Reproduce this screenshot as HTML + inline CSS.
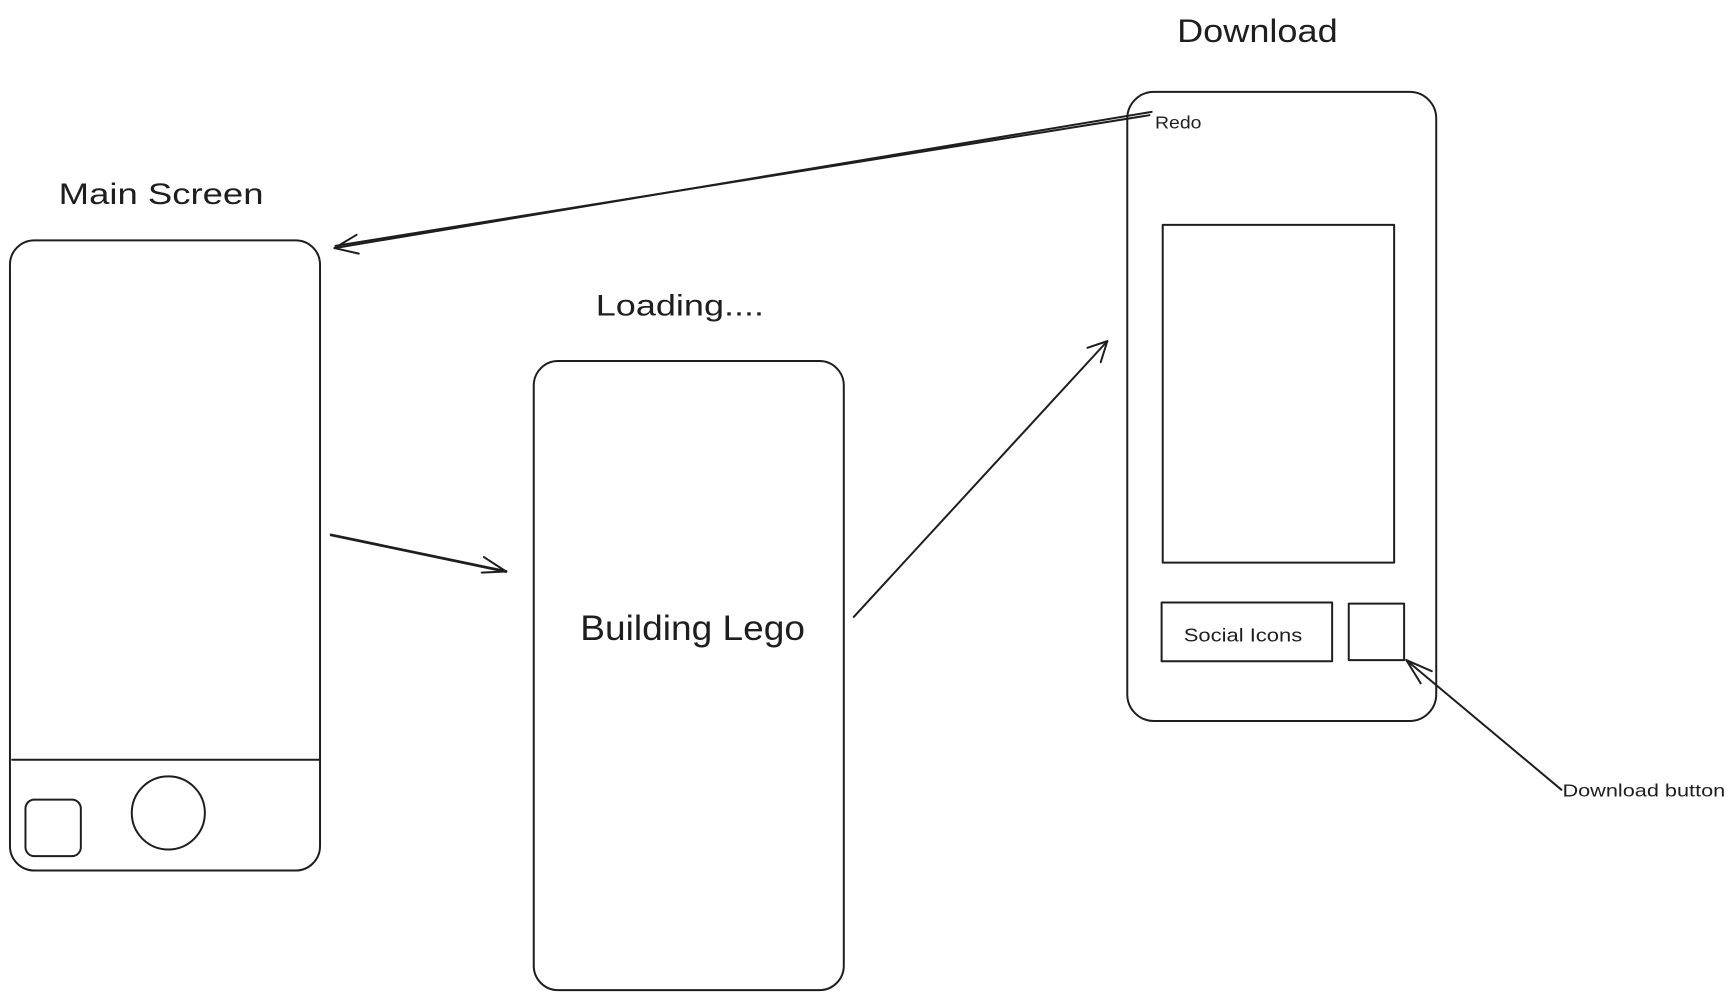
<!DOCTYPE html>
<html><head><meta charset="utf-8"><style>
html,body{margin:0;padding:0;background:#fff;}
svg{display:block;}
text{font-family:"Liberation Sans","DejaVu Sans",sans-serif;fill:#1e1e1e;}
</style></head><body>
<svg width="1733" height="999" viewBox="0 0 1565 902" preserveAspectRatio="none" xmlns="http://www.w3.org/2000/svg">
<g fill="none" stroke="#1e1e1e" stroke-width="1.8" stroke-linecap="round" stroke-linejoin="round">
<rect x="9" y="217" width="280" height="569" rx="22"/>
<line x1="11" y1="686" x2="289" y2="686"/>
<rect x="23" y="722" width="50" height="51" rx="8"/>
<circle cx="152" cy="734" r="33"/>
<rect x="482" y="326" width="280" height="568" rx="22"/>
<rect x="1018" y="83" width="279" height="568" rx="24"/>
<rect x="1050" y="203" width="209" height="305"/>
<rect x="1049" y="544" width="154" height="53"/>
<rect x="1218" y="545" width="50" height="51"/>
<line x1="299" y1="483" x2="457" y2="516" stroke-width="2.5"/>
<polyline points="437,503 457,516 435,517"/>
<line x1="771" y1="557" x2="1000" y2="308"/>
<polyline points="982,314 1000,308 994,327"/>
<line x1="1040" y1="101" x2="302" y2="224"/>
<line x1="1038" y1="104" x2="303" y2="222"/>
<polyline points="322,212 302,224 324,229"/>
<line x1="1410" y1="713" x2="1270" y2="596"/>
<polyline points="1293,606 1270,596 1283,617"/>
</g>
<text x="53" y="184" font-size="27" textLength="185" lengthAdjust="spacingAndGlyphs">Main Screen</text>
<text x="538" y="285" font-size="27" textLength="152" lengthAdjust="spacingAndGlyphs">Loading....</text>
<text x="1063" y="38" font-size="29" textLength="145" lengthAdjust="spacingAndGlyphs">Download</text>
<text x="524" y="578" font-size="32" textLength="203" lengthAdjust="spacingAndGlyphs">Building Lego</text>
<text x="1043" y="116" font-size="16" textLength="42" lengthAdjust="spacingAndGlyphs">Redo</text>
<text x="1069" y="579" font-size="17" textLength="107" lengthAdjust="spacingAndGlyphs">Social Icons</text>
<text x="1411" y="719" font-size="16" textLength="147" lengthAdjust="spacingAndGlyphs">Download button</text>
</svg>
</body></html>
